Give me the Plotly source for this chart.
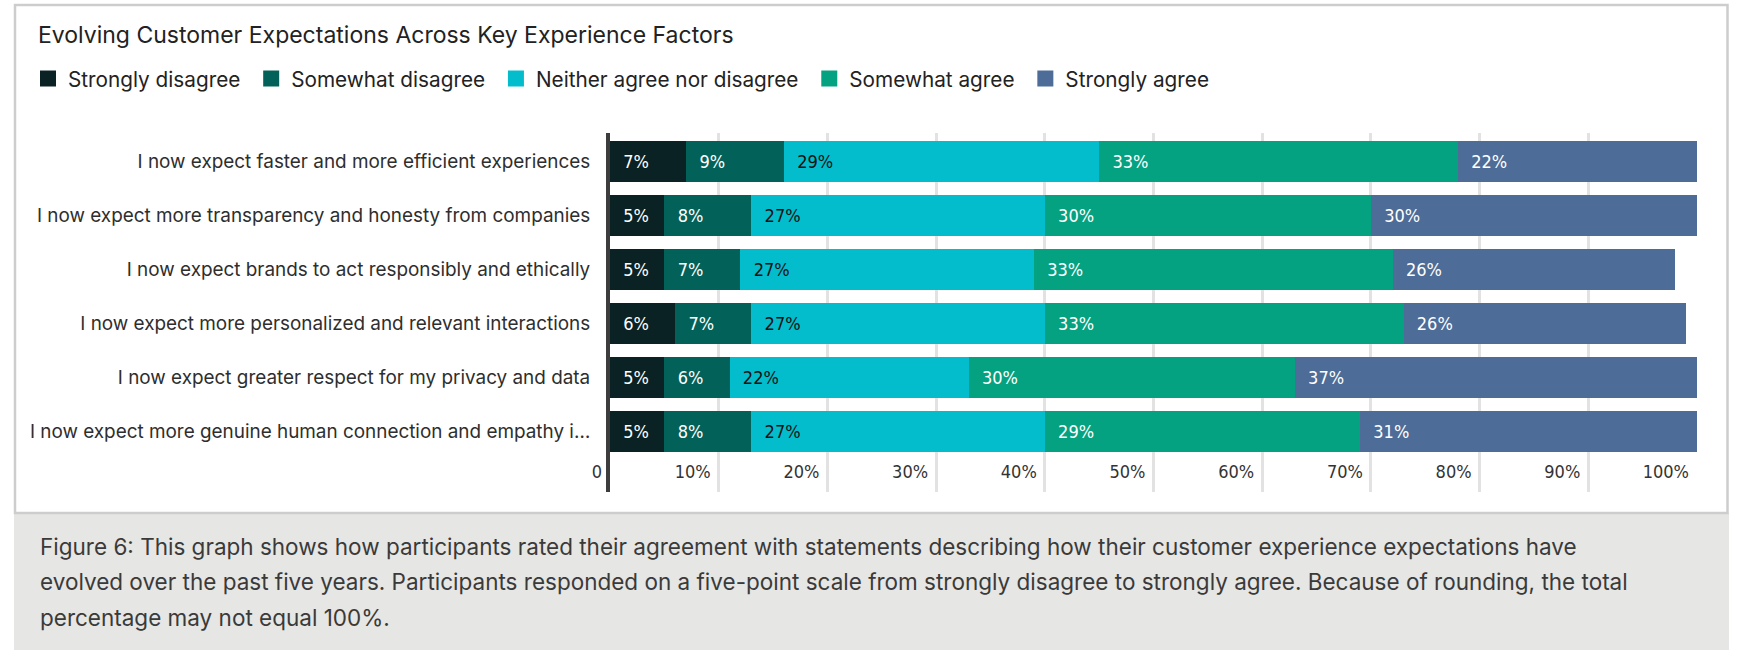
import plotly.graph_objects as go

# ---- data ----
statements = [
    "I now expect faster and more efficient experiences",
    "I now expect more transparency and honesty from companies",
    "I now expect brands to act responsibly and ethically",
    "I now expect more personalized and relevant interactions",
    "I now expect greater respect for my privacy and data",
    "I now expect more genuine human connection and empathy i…",
]
response_levels = [
    "Strongly disagree",
    "Somewhat disagree",
    "Neither agree nor disagree",
    "Somewhat agree",
    "Strongly agree",
]
strongly_disagree = [7, 5, 5, 6, 5, 5]
somewhat_disagree = [9, 8, 7, 7, 6, 8]
neither = [29, 27, 27, 27, 22, 27]
somewhat_agree = [33, 30, 33, 33, 30, 29]
strongly_agree = [22, 30, 26, 26, 37, 31]

tick_values = [0, 10, 20, 30, 40, 50, 60, 70, 80, 90, 100]
tick_labels = ["0", "10%", "20%", "30%", "40%", "50%", "60%", "70%", "80%", "90%", "100%"]

title_text = "Evolving Customer Expectations Across Key Experience Factors"
caption_lines = [
    "Figure 6: This graph shows how participants rated their agreement with statements describing how their customer experience expectations have",
    "evolved over the past five years. Participants responded on a five-point scale from strongly disagree to strongly agree. Because of rounding, the total",
    "percentage may not equal 100%.",
]

# ---- styling ----
W, H = 1737, 650
PL, PR, PT, PB = 610, 1697, 133, 492  # plot area edges in pixels

colors = ["#0b2224", "#02625a", "#03bdcd", "#04a281", "#4d6c97"]
label_colors = ["#ffffff", "#ffffff", "#111111", "#ffffff", "#ffffff"]
FONT = "Inter, Roboto, 'Open Sans', Arial, sans-serif"
NARROW = "'Liberation Sans Narrow', 'DejaVu Sans Condensed', 'Roboto Condensed', 'Arial Narrow', sans-serif"


def px_x(px):
    return (px - PL) / (PR - PL)


def px_y(py):
    return (PB - py) / (PB - PT)


series = [strongly_disagree, somewhat_disagree, neither, somewhat_agree, strongly_agree]

fig = go.Figure()

for name, vals, col, tcol in zip(response_levels, series, colors, label_colors):
    fig.add_trace(go.Bar(
        y=statements,
        x=vals,
        orientation="h",
        marker=dict(color=col, line=dict(width=0)),
        text=[f"\u00a0\u00a0{v}%" for v in vals],
        textposition="inside",
        insidetextanchor="start",
        textangle=0,
        textfont=dict(family=NARROW, size=18, color=tcol),
        showlegend=False,
        hoverinfo="skip",
    ))

# legend entries with larger square swatches (trailing nbsp widens the item spacing)
for name, col in zip(response_levels, colors):
    fig.add_trace(go.Scatter(
        x=[None], y=[None], mode="markers",
        marker=dict(symbol="square", size=16, color=col, line=dict(width=0)),
        name=name + "\u00a0",
        hoverinfo="skip",
    ))

# card outline and caption panel
shapes = [
    dict(type="rect", xref="paper", yref="paper",
         x0=px_x(14), x1=px_x(1729), y0=px_y(650), y1=px_y(513),
         fillcolor="#e6e6e4", line=dict(width=0), layer="below"),
    dict(type="rect", xref="paper", yref="paper",
         x0=px_x(15), x1=px_x(1727.5), y0=px_y(513), y1=px_y(5),
         fillcolor="rgba(0,0,0,0)", line=dict(color="#cdcdcd", width=2.5), layer="below"),
]

caption_y = [546, 581.5, 617]
annotations = [
    dict(text=line, xref="paper", yref="paper", x=px_x(38), y=px_y(yc),
         xanchor="left", yanchor="middle", showarrow=False, align="left",
         font=dict(family=FONT, size=22.5, color="#3a3a3a"))
    for line, yc in zip(caption_lines, caption_y)
]

fig.update_layout(
    width=W, height=H,
    margin=dict(l=PL, r=W - PR, t=PT, b=H - PB, pad=0),
    paper_bgcolor="white",
    plot_bgcolor="white",
    barmode="stack",
    bargap=0.24,
    font=dict(family=FONT, color="#2a2a2a"),
    title=dict(text=title_text, x=38 / W, xref="container", xanchor="left",
               y=1 - 35 / H, yref="container", yanchor="middle",
               font=dict(family=FONT, size=23, color="#222222")),
    legend=dict(orientation="h", x=px_x(28), xanchor="left", y=px_y(78.6), yanchor="middle",
                font=dict(family=FONT, size=20.75, color="#222222"),
                bgcolor="rgba(0,0,0,0)", traceorder="normal"),
    xaxis=dict(range=[0, 100], tickvals=tick_values, ticktext=tick_labels,
               showgrid=True, gridcolor="#e2e2e2", gridwidth=3,
               zeroline=False, showline=False, ticks="",
               ticklabelposition="inside left", ticklabeloverflow="allow",
               ticklabelshift=-8, ticklabelstandoff=4,
               tickfont=dict(family=NARROW, size=18, color="#333333"),
               fixedrange=True),
    yaxis=dict(type="category", categoryorder="array", categoryarray=statements,
               range=[6.12, -0.528], showgrid=False, zeroline=False,
               showline=True, linecolor="#3d3d3d", linewidth=4,
               ticks="", ticklabelstandoff=12,
               tickfont=dict(family=FONT, size=18.9, color="#2e2e2e"),
               fixedrange=True),
    shapes=shapes,
    annotations=annotations,
)

fig.write_html("out.html")
